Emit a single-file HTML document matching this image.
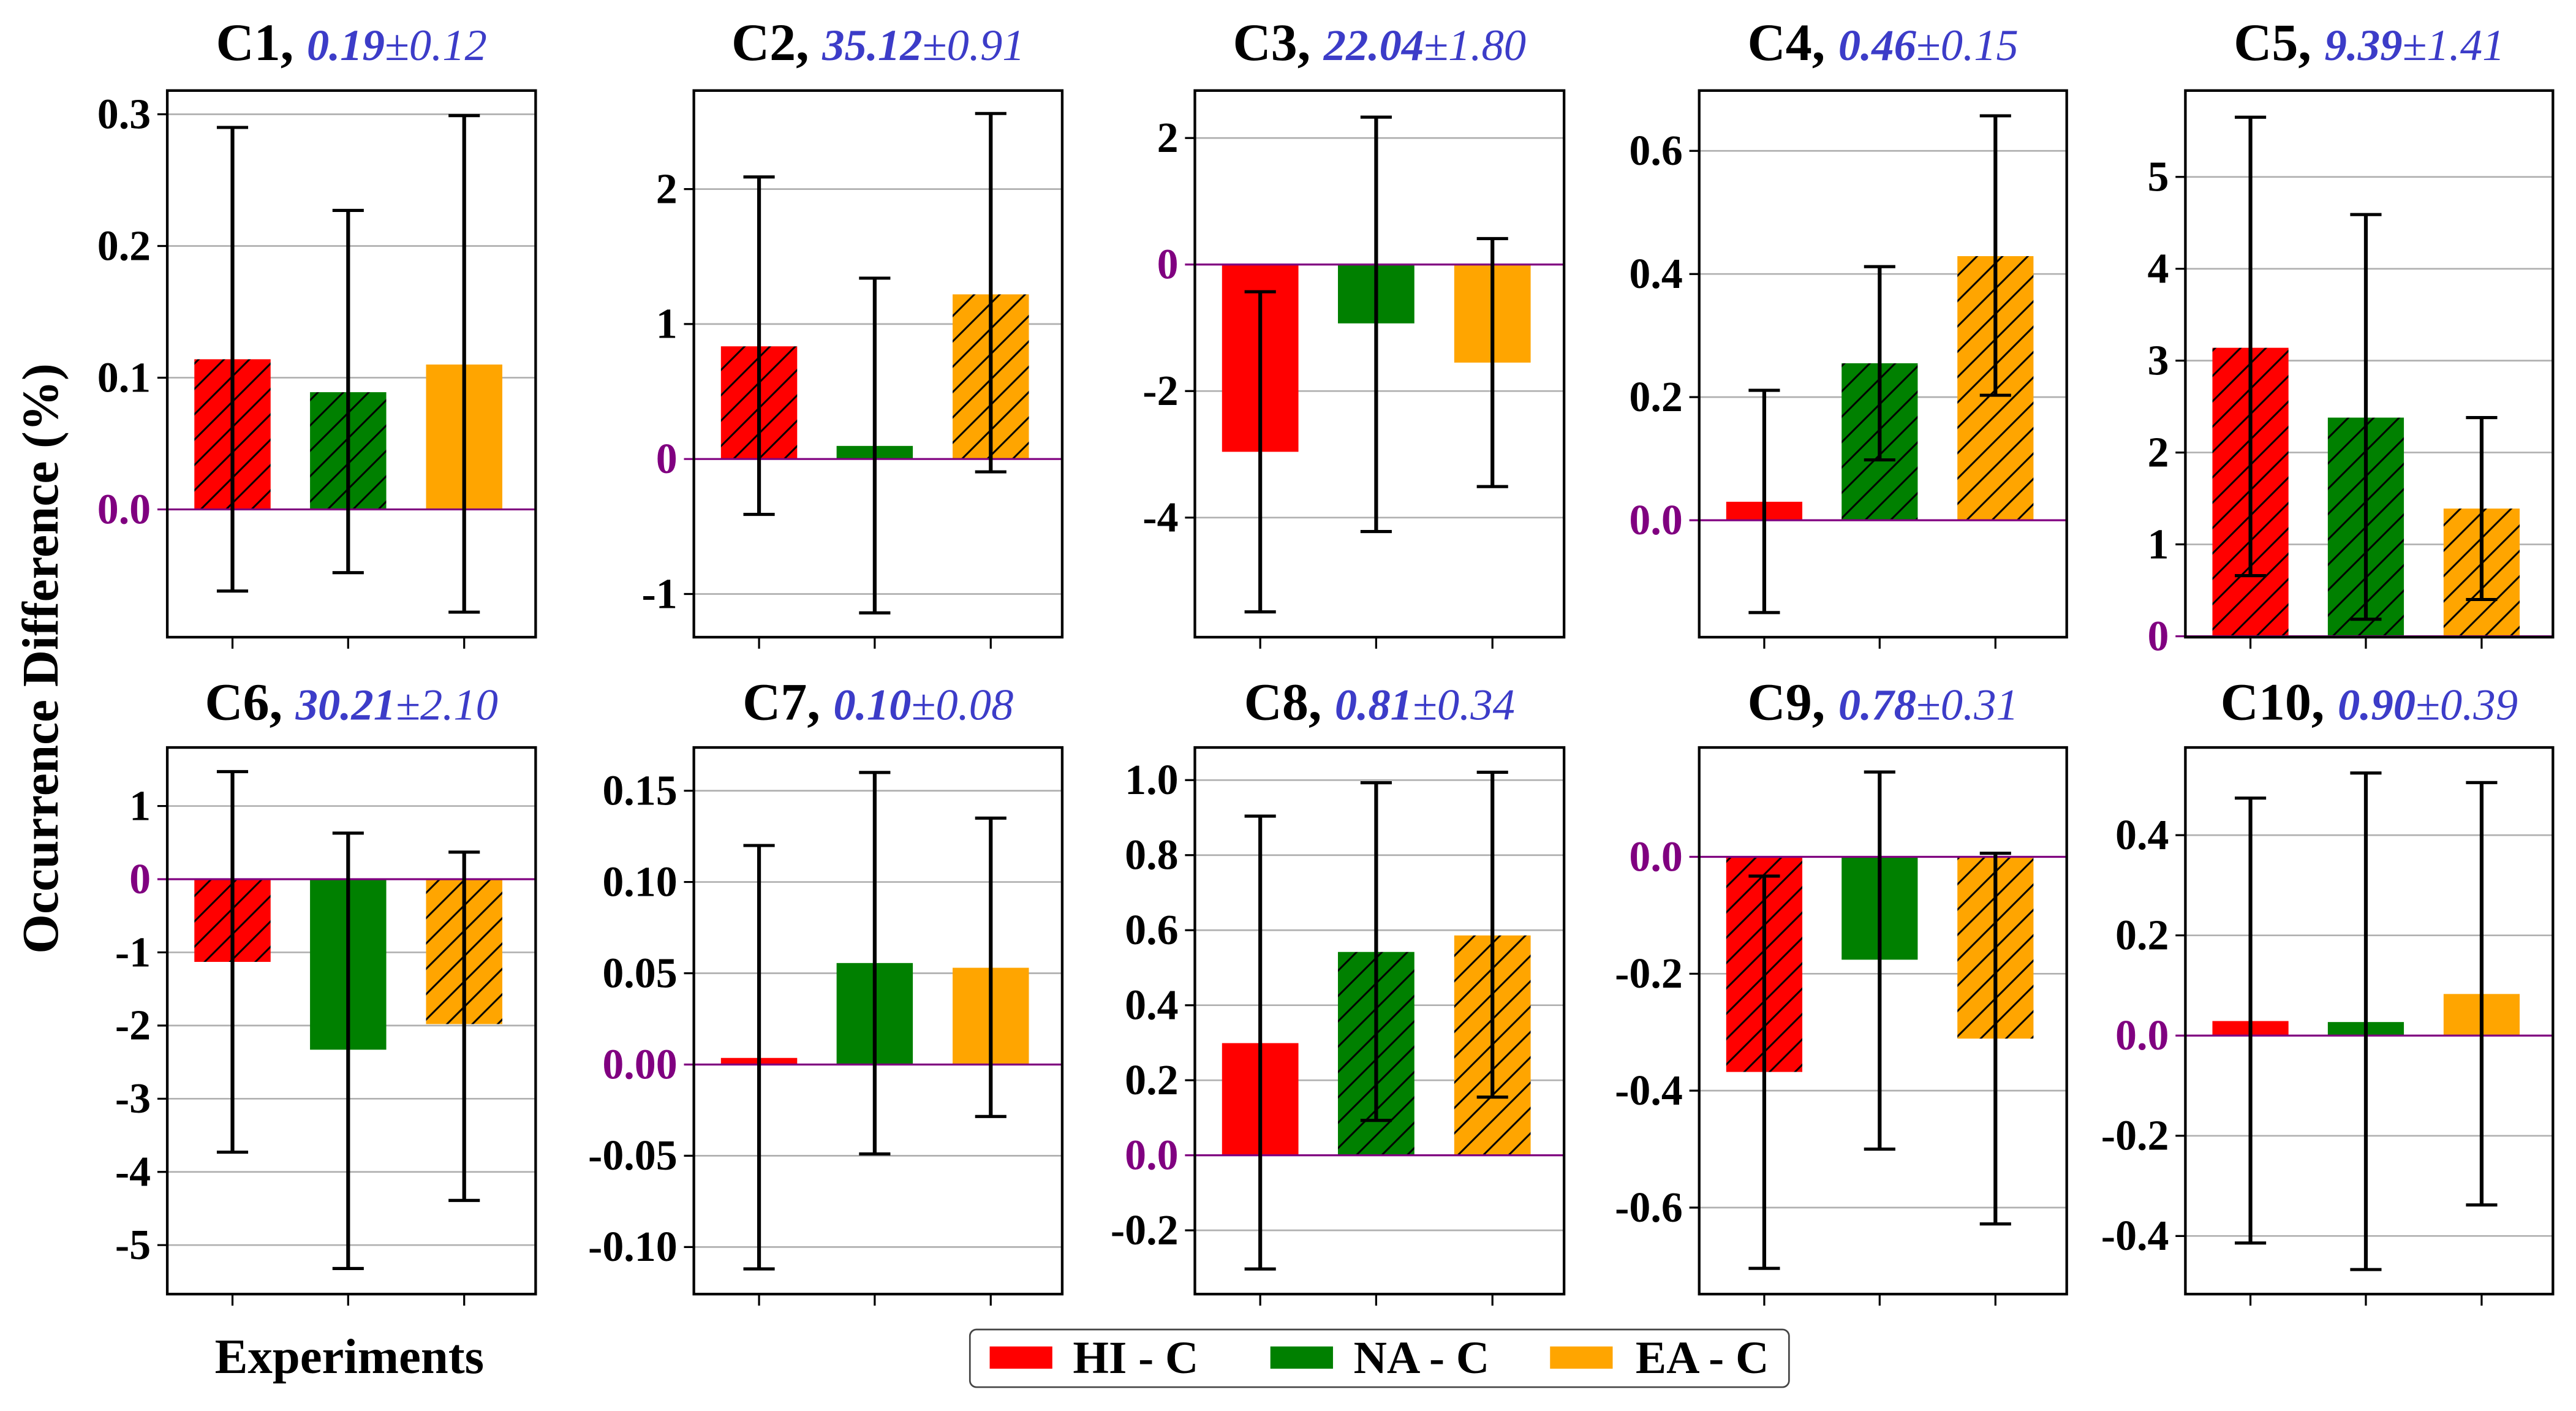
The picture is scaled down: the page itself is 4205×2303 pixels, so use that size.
<!DOCTYPE html>
<html><head><meta charset="utf-8"><style>
html,body{margin:0;padding:0;background:#fff;}
svg{display:block;}
text{font-family:"Liberation Serif",serif;}
</style></head><body>
<svg id="fig" xmlns="http://www.w3.org/2000/svg" width="4205" height="2303" viewBox="0 0 1563 857" preserveAspectRatio="none">
<defs>
<pattern id="hatch-red" patternUnits="userSpaceOnUse" width="15.4" height="15.4"><rect width="15.4" height="15.4" fill="#ff0000"/><path d="M-3.85,3.85 L3.85,-3.85 M0,15.4 L15.4,0 M11.55,19.25 L19.25,11.55" stroke="#000" stroke-width="1.1"/></pattern>
<pattern id="hatch-green" patternUnits="userSpaceOnUse" width="15.4" height="15.4"><rect width="15.4" height="15.4" fill="#008000"/><path d="M-3.85,3.85 L3.85,-3.85 M0,15.4 L15.4,0 M11.55,19.25 L19.25,11.55" stroke="#000" stroke-width="1.1"/></pattern>
<pattern id="hatch-orange" patternUnits="userSpaceOnUse" width="15.4" height="15.4"><rect width="15.4" height="15.4" fill="#ffa500"/><path d="M-3.85,3.85 L3.85,-3.85 M0,15.4 L15.4,0 M11.55,19.25 L19.25,11.55" stroke="#000" stroke-width="1.1"/></pattern>
</defs>
<text x="0" y="0" transform="translate(35,400) rotate(-90)" text-anchor="middle" font-size="31" font-weight="bold">Occurrence Difference (%)</text>
<text x="212" y="834" text-anchor="middle" font-size="30" font-weight="bold">Experiments</text>
<g>
<rect x="588.5" y="807.5" width="497" height="35" rx="4" fill="#fff" stroke="#444" stroke-width="1"/>
<g><rect x="600.5" y="817.8" width="38" height="13.5" fill="#ff0000"/><text x="651" y="834" font-size="28" font-weight="bold">HI - C</text></g>
<g><rect x="770.8" y="817.8" width="38" height="13.5" fill="#008000"/><text x="821.3" y="834" font-size="28" font-weight="bold">NA - C</text></g>
<g><rect x="940.5" y="817.8" width="38" height="13.5" fill="#ffa500"/><text x="992.4" y="834" font-size="28" font-weight="bold">EA - C</text></g>
</g>
</svg>
<script>
const panelNames = ["C1","C2","C3","C4","C5","C6","C7","C8","C9","C10"];
const meanLabels = ["0.19","35.12","22.04","0.46","9.39","30.21","0.10","0.81","0.78","0.90"];
const stdLabels = ["0.12","0.91","1.80","0.15","1.41","2.10","0.08","0.34","0.31","0.39"];
const seriesNames = ["HI - C","NA - C","EA - C"];
const hiValues = [0.114, 0.835, -2.96, 0.030, 3.14, -1.13, 0.0036, 0.299, -0.368, 0.029];
const naValues = [0.089, 0.097, -0.93, 0.255, 2.38, -2.33, 0.0556, 0.542, -0.176, 0.027];
const eaValues = [0.110, 1.22, -1.55, 0.429, 1.39, -1.98, 0.053, 0.586, -0.311, 0.083];
const hiErrHigh = [0.290, 2.09, -0.43, 0.211, 5.65, 1.47, 0.120, 0.904, -0.033, 0.474];
const hiErrLow = [-0.062, -0.41, -5.49, -0.150, 0.66, -3.73, -0.112, -0.303, -0.704, -0.414];
const naErrHigh = [0.227, 1.34, 2.33, 0.412, 4.59, 0.63, 0.160, 0.993, 0.145, 0.524];
const naErrLow = [-0.048, -1.14, -4.22, 0.098, 0.185, -5.32, -0.049, 0.093, -0.50, -0.467];
const eaErrHigh = [0.299, 2.56, 0.41, 0.657, 2.38, 0.37, 0.135, 1.021, 0.006, 0.505];
const eaErrLow = [-0.078, -0.095, -3.51, 0.203, 0.40, -4.39, -0.0285, 0.155, -0.628, -0.338];
const hiHatched = [1,1,0,0,1,1,0,0,1,0];
const naHatched = [1,0,0,1,1,0,0,1,0,0];
const eaHatched = [0,1,0,1,1,1,0,1,1,0];
const yMinValues = [-0.097, -1.32, -5.89, -0.190, -0.01, -5.67, -0.1258, -0.370, -0.748, -0.516];
const yMaxValues = [0.318, 2.73, 2.75, 0.698, 5.94, 1.80, 0.1737, 1.087, 0.187, 0.575];
const yTickLabels = [
 ["0.0","0.1","0.2","0.3"],
 ["-1","0","1","2"],
 ["-4","-2","0","2"],
 ["0.0","0.2","0.4","0.6"],
 ["0","1","2","3","4","5"],
 ["-5","-4","-3","-2","-1","0","1"],
 ["-0.10","-0.05","0.00","0.05","0.10","0.15"],
 ["-0.2","0.0","0.2","0.4","0.6","0.8","1.0"],
 ["-0.6","-0.4","-0.2","0.0"],
 ["-0.4","-0.2","0.0","0.2","0.4"]
];

const NS = "http://www.w3.org/2000/svg";
const svg = document.getElementById("fig");
const colLeft = [101.5, 421, 725, 1031, 1326];
const colRight = [325, 644.5, 949, 1254, 1549];
const rowTop = [55, 454];
const rowBottom = [387, 786];
const titleBase = [36.5, 437];
const fills = ["#ff0000","#008000","#ffa500"];
const hatchIds = ["hatch-red","hatch-green","hatch-orange"];
const barFrac = [0.177, 0.491, 0.806];
const barWFrac = 0.207;

function mk(tag, attrs, parent){
  const e = document.createElementNS(NS, tag);
  for (const k in attrs) e.setAttribute(k, attrs[k]);
  parent.appendChild(e);
  return e;
}

for (let p = 0; p < panelNames.length; p++) {
  const col = p % 5, row = Math.floor(p / 5);
  const L = colLeft[col], R = colRight[col], T = rowTop[row], B = rowBottom[row];
  const W = R - L;
  const y = v => B - (v - yMinValues[p]) / (yMaxValues[p] - yMinValues[p]) * (B - T);
  const g = mk("g", {}, svg);
  
  

  const t = mk("text", {x: (L + R) / 2, y: titleBase[row], "text-anchor": "middle", "font-size": 32, "font-weight": "bold"}, g);
  
  
  const s1 = mk("tspan", {}, t); s1.textContent = panelNames[p] + ", ";
  const s2 = mk("tspan", {fill: "#3c3cc8", "font-style": "italic", "font-size": 27}, t); s2.textContent = meanLabels[p];
  const s3 = mk("tspan", {fill: "#3c3cc8", "font-style": "italic", "font-weight": "normal", "font-size": 27}, t); s3.textContent = "\u00b1" + stdLabels[p];

  yTickLabels[p].forEach(lbl => {
    const v = parseFloat(lbl);
    const yy = y(v);
    const isZero = v === 0;
    if (!isZero) {
      const gl = mk("line", {x1: L, x2: R, y1: yy, y2: yy, stroke: "#b0b0b0", "stroke-width": 1}, g);
      
      
    }
    const tk = mk("line", {x1: L - 6, x2: L, y1: yy, y2: yy, stroke: isZero ? "#800080" : "#000", "stroke-width": 1.2}, g);
    
    
    const tl = mk("text", {x: L - 10, y: yy + 8.5, "text-anchor": "end", "font-size": 26, "font-weight": "bold", fill: isZero ? "#800080" : "#000"}, g);
    
    
    tl.textContent = lbl;
  });

  const vals = [hiValues[p], naValues[p], eaValues[p]];
  const hatched = [hiHatched[p], naHatched[p], eaHatched[p]];
  const errHi = [hiErrHigh[p], naErrHigh[p], eaErrHigh[p]];
  const errLo = [hiErrLow[p], naErrLow[p], eaErrLow[p]];
  const y0 = y(0);
  for (let i = 0; i < 3; i++) {
    const cx = L + barFrac[i] * W;
    const bw = barWFrac * W;
    const yv = y(vals[i]);
    const r = mk("rect", {x: cx - bw / 2, y: Math.min(yv, y0), width: bw, height: Math.abs(y0 - yv), fill: hatched[i] ? "url(#" + hatchIds[i] + ")" : fills[i]}, g);
    
    
  }
  const zl = mk("line", {x1: L, x2: R, y1: y0, y2: y0, stroke: "#800080", "stroke-width": 1.2}, g);
  
  
  for (let i = 0; i < 3; i++) {
    const cx = L + barFrac[i] * W;
    const yh = y(errHi[i]), yl = y(errLo[i]);
    const eg = mk("g", {stroke: "#000", "stroke-width": 2.3}, g);
    
    
    mk("line", {x1: cx, x2: cx, y1: yh, y2: yl}, eg);
    mk("line", {x1: cx - 9.5, x2: cx + 9.5, y1: yh, y2: yh, "stroke-width": 1.9}, eg);
    mk("line", {x1: cx - 9.5, x2: cx + 9.5, y1: yl, y2: yl, "stroke-width": 1.9}, eg);
    const xt = mk("line", {x1: cx, x2: cx, y1: B, y2: B + 7, stroke: "#000", "stroke-width": 1.2}, g);
    
    
  }
  const fr = mk("rect", {x: L, y: T, width: W, height: B - T, fill: "none", stroke: "#000", "stroke-width": 1.6}, g);
  
  
}
</script>
</body></html>
